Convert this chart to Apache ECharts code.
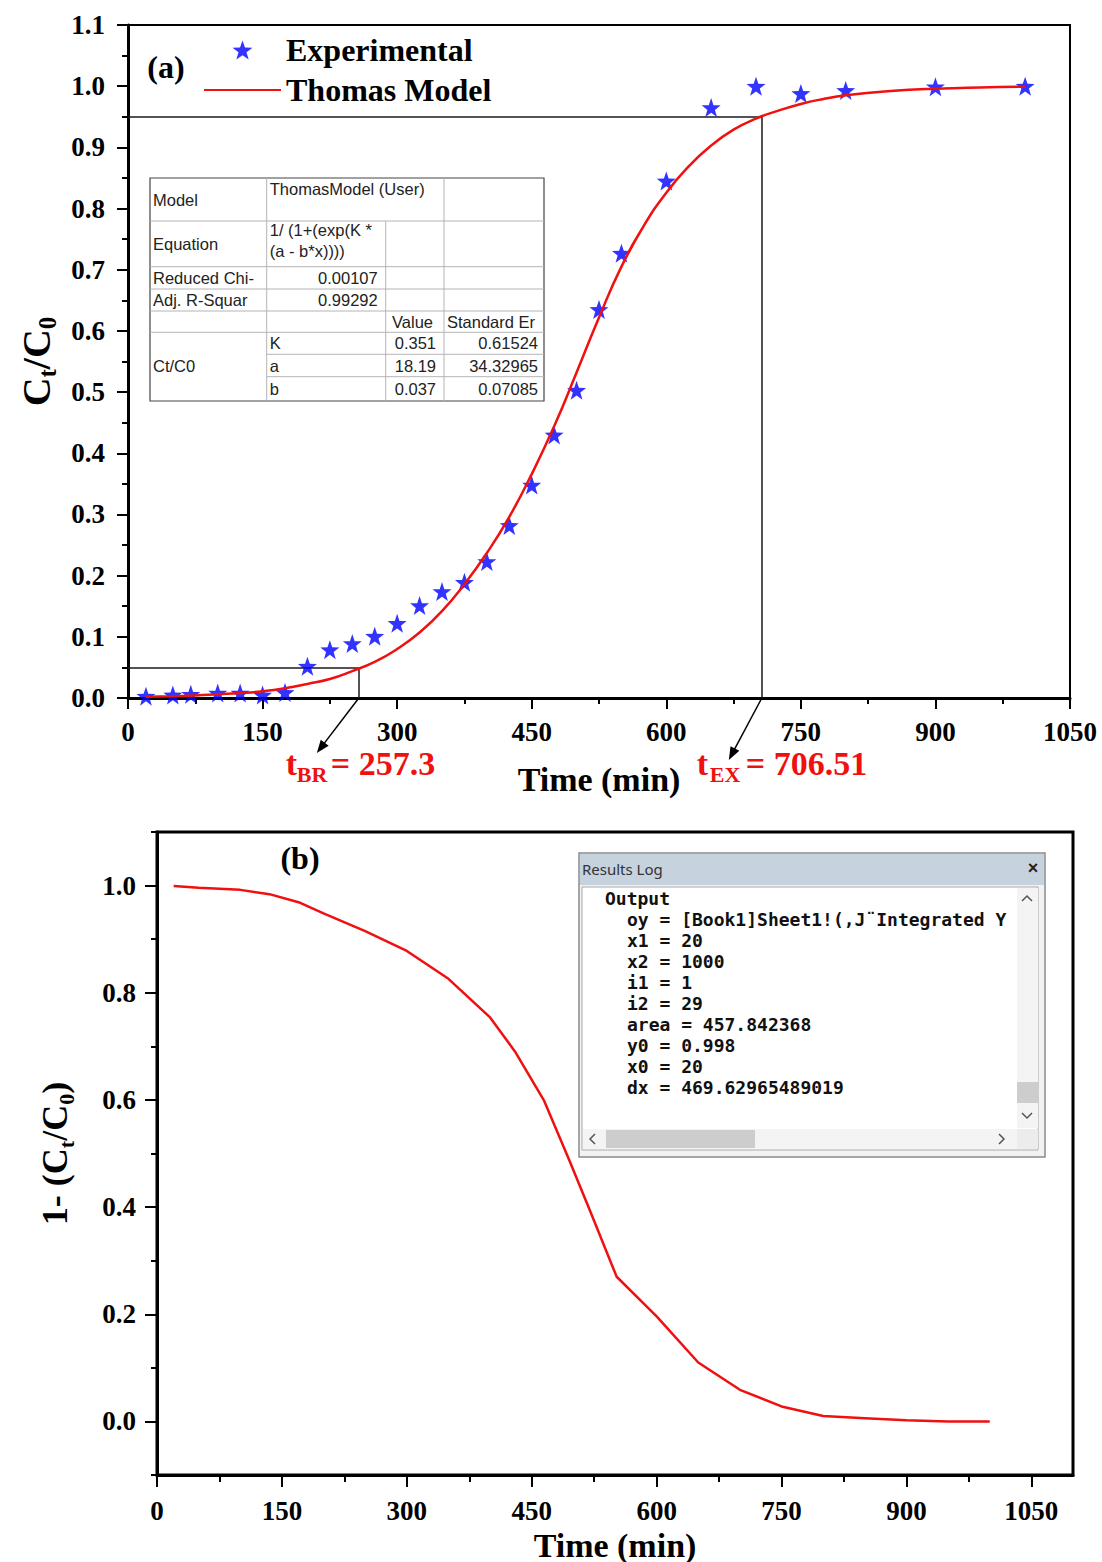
<!DOCTYPE html>
<html><head><meta charset="utf-8">
<script src="https://cdn.jsdelivr.net/npm/echarts@6/dist/echarts.min.js"></script>
<style>html,body{margin:0;padding:0;background:#fff}#c{width:1102px;height:1562px}</style>
</head><body><div id="c"></div>
<script>
// ---------------- data ----------------
const expTime = [20,50,70,100,125,150,175,200,225,250,275,300,325,350,375,400,425,450,475,500,525,550,600,650,700,750,800,900,1000];
const expCt   = [0.003,0.005,0.006,0.008,0.008,0.005,0.009,0.052,0.079,0.089,0.101,0.122,0.151,0.174,0.189,0.223,0.282,0.348,0.430,0.503,0.635,0.727,0.845,0.965,1.000,0.988,0.993,0.999,1.000];
const modelTime = [20,50,75,100,125,150,175,200,225,250,275,300,325,350,375,400,425,450,475,500,525,550,575,600,625,650,675,700,725,750,775,800,850,900,950,1000];
const modelCt   = [0.002,0.003,0.004,0.006,0.008,0.011,0.016,0.023,0.031,0.044,0.059,0.080,0.107,0.142,0.186,0.237,0.296,0.366,0.444,0.532,0.622,0.705,0.772,0.826,0.869,0.903,0.929,0.947,0.960,0.971,0.979,0.985,0.992,0.996,0.998,0.999];
const bTime  = [20,50,100,135,170,200,250,300,350,400,430,465,495,520,552,600,650,700,750,800,850,900,950,1000];
const bValue = [0.999,0.996,0.992,0.984,0.969,0.948,0.915,0.878,0.826,0.754,0.690,0.598,0.488,0.393,0.270,0.196,0.110,0.059,0.028,0.010,0.006,0.002,0.000,0.000];
const tBR = 257.3, tEX = 706.51;
const lvlBR = 0.05, lvlEX = 0.95;
const xTicksB = [0,150,300,450,600,750,900,1050];
const xMinorB = [75,225,375,525,675,825,975];
const yTicksB = [0,0.2,0.4,0.6,0.8,1.0];
const yMinorB = [-0.1,0.1,0.3,0.5,0.7,0.9,1.1];
const legendNames = ['Experimental','Thomas Model'];
const tableLabels = ['Model','Equation','Reduced Chi-','Adj. R-Squar','','Ct/C0'];
const tableModelName = 'ThomasModel (User)';
const tableEquation = ['1/ (1+(exp(K *','(a - b*x))))'];
const tableStats = ['0.00107','0.99292'];
const tableHeaders = ['Value','Standard Er'];
const paramNames = ['K','a','b'];
const paramValues = ['0.351','18.19','0.037'];
const paramErrors = ['0.61524','34.32965','0.07085'];
const logTitle = 'Results Log';
const logLines = ['Output','oy = [Book1]Sheet1!(,J\u00a8Integrated Y','x1 = 20','x2 = 1000','i1 = 1','i2 = 29','area = 457.842368','y0 = 0.998','x0 = 20','dx = 469.62965489019'];

// ---------------- chart ----------------
const serif = '"Liberation Serif","Times New Roman",serif';
const sans = '"Liberation Sans",Arial,sans-serif';
const mono = '"DejaVu Sans Mono",monospace';
const BLACK = '#000';
const RED = '#f01010';
const tickFont = {fontFamily: serif, fontWeight: 'bold', fontSize: 27, color: BLACK};
const richA = {
  c: {fontFamily: serif, fontWeight: 'bold', fontSize: 40, lineHeight: 48, color: BLACK},
  s: {fontFamily: serif, fontWeight: 'bold', fontSize: 25, lineHeight: 25, verticalAlign: 'bottom', color: BLACK}
};
const richB = {
  c: {fontFamily: serif, fontWeight: 'bold', fontSize: 36, lineHeight: 44, color: BLACK},
  s: {fontFamily: serif, fontWeight: 'bold', fontSize: 22, lineHeight: 22, verticalAlign: 'bottom', color: BLACK}
};
const starPath = 'path://M0,-10L2.35,-3.24L9.51,-3.09L3.8,1.24L5.88,8.09L0,4L-5.88,8.09L-3.8,1.24L-9.51,-3.09L-2.35,-3.24Z';
const plainNum = v => String(v);

const chart = echarts.init(document.getElementById('c'), null, {renderer: 'svg'});

function axisBase(extra) {
  return Object.assign({
    type: 'value',
    splitLine: {show: false},
    axisLine: {show: true, onZero: false, lineStyle: {color: BLACK, width: 3}},
    axisTick: {show: true, inside: false, length: 11, lineStyle: {color: BLACK, width: 2}},
    axisLabel: Object.assign({margin: 20, formatter: plainNum}, tickFont)
  }, extra);
}

const option = {
  animation: false,
  backgroundColor: '#fff',
  grid: [
    {left: 128, top: 25, width: 942, height: 673, show: true, borderColor: BLACK, borderWidth: 2, backgroundColor: 'transparent', containLabel: false, outerBoundsMode: 'none'},
    {left: 157, top: 832, width: 916, height: 643, show: true, borderColor: BLACK, borderWidth: 3, backgroundColor: 'transparent', containLabel: false, outerBoundsMode: 'none'}
  ],
  legend: {
    data: [legendNames[0], {name: legendNames[1], itemStyle: {opacity: 0}}],
    orient: 'vertical', left: 203, top: 34, padding: 0,
    itemWidth: 77, itemHeight: 19, itemGap: 8,
    textStyle: {fontFamily: serif, fontWeight: 'bold', fontSize: 32, color: BLACK}
  },
  xAxis: [
    axisBase({gridIndex: 0, min: 0, max: 1050, interval: 150,
      minorTick: {show: true, splitNumber: 2, length: 6, lineStyle: {color: BLACK, width: 2}},
      name: 'Time (min)', nameLocation: 'middle', nameGap: 64,
      nameTextStyle: {fontFamily: serif, fontWeight: 'bold', fontSize: 34, color: BLACK}}),
    axisBase({gridIndex: 1, min: 0, max: 1100,
      axisTick: {show: true, length: 12, lineStyle: {color: BLACK, width: 2}, customValues: xTicksB},
      axisLabel: Object.assign({margin: 22, customValues: xTicksB, formatter: plainNum}, tickFont),
      name: 'Time (min)', nameLocation: 'middle', nameGap: 53,
      nameTextStyle: {fontFamily: serif, fontWeight: 'bold', fontSize: 34, color: BLACK}}),
    {type: 'value', gridIndex: 1, min: 0, max: 1100, position: 'bottom',
      axisLine: {show: false, onZero: false}, splitLine: {show: false}, axisLabel: {show: false},
      axisTick: {show: true, length: 7, lineStyle: {color: BLACK, width: 2}, customValues: xMinorB}}
  ],
  yAxis: [
    axisBase({gridIndex: 0, min: 0, max: 1.1, interval: 0.1,
      minorTick: {show: true, splitNumber: 2, length: 6, lineStyle: {color: BLACK, width: 2}},
      axisLabel: Object.assign({margin: 23, formatter: v => v.toFixed(1)}, tickFont),
      name: '{c|C}{s|t}{c|/C}{s|0}', nameLocation: 'middle', nameRotate: 90, nameGap: 64,
      nameTextStyle: {rich: richA, padding: [0, 0, 0, 0]}}),
    axisBase({gridIndex: 1, min: -0.1, max: 1.1,
      axisTick: {show: true, length: 12, lineStyle: {color: BLACK, width: 2}, customValues: yTicksB},
      axisLabel: Object.assign({margin: 21, customValues: yTicksB, formatter: v => v.toFixed(1)}, tickFont),
      name: '{c|1- (C}{s|t}{c|/C}{s|0}{c|)}', nameLocation: 'middle', nameRotate: 90, nameGap: 80,
      nameTextStyle: {rich: richB}}),
    {type: 'value', gridIndex: 1, min: -0.1, max: 1.1, position: 'left',
      axisLine: {show: false, onZero: false}, splitLine: {show: false}, axisLabel: {show: false},
      axisTick: {show: true, length: 6, lineStyle: {color: BLACK, width: 2}, customValues: yMinorB}}
  ],
  series: [
    {name: legendNames[0], type: 'scatter', xAxisIndex: 0, yAxisIndex: 0,
      symbol: starPath, symbolSize: 19, itemStyle: {color: '#0000ff'},
      data: expTime.map((t, i) => [t, expCt[i]]), z: 2},
    {name: legendNames[1], type: 'line', xAxisIndex: 0, yAxisIndex: 0,
      symbol: 'none', smooth: true, lineStyle: {color: RED, width: 2.5}, itemStyle: {color: RED},
      data: modelTime.map((t, i) => [t, modelCt[i]]), z: 3,
      markLine: {silent: true, symbol: ['none', 'none'], label: {show: false}, z: 1,
        lineStyle: {color: '#1a1a1a', width: 1.5, type: 'solid'},
        emphasis: {disabled: true},
        data: [
          [{coord: [0, lvlEX]}, {coord: [tEX, lvlEX]}],
          [{coord: [tEX, lvlEX]}, {coord: [tEX, 0]}],
          [{coord: [0, lvlBR]}, {coord: [tBR, lvlBR]}],
          [{coord: [tBR, lvlBR]}, {coord: [tBR, 0]}]
        ]}},
    {name: 'bcurve', type: 'line', xAxisIndex: 1, yAxisIndex: 1,
      symbol: 'none', smooth: false, lineStyle: {color: RED, width: 2.5},
      data: bTime.map((t, i) => [t, bValue[i]])}
  ]
};
chart.setOption(option);

// ---------------- annotations (graphic) ----------------
const g = [];
function txt(x, y, text, font, color, align, vAlign) {
  g.push({type: 'text', z: 100, x: x, y: y, style: {text: text, font: font, fill: color || BLACK, align: align || 'left', verticalAlign: vAlign || 'middle'}});
}
function arrow(p0, dx, dy) {
  const tip = [p0[0] + dx, p0[1] + dy];
  const L = Math.hypot(dx, dy), ux = dx / L, uy = dy / L, nx = -uy, ny = ux;
  const hl = 13, hw = 5;
  g.push({type: 'line', z: 100, shape: {x1: p0[0], y1: p0[1], x2: tip[0] - ux * 8, y2: tip[1] - uy * 8}, style: {stroke: BLACK, lineWidth: 1.5}});
  g.push({type: 'polygon', z: 100, shape: {points: [tip, [tip[0] - ux * hl + nx * hw, tip[1] - uy * hl + ny * hw], [tip[0] - ux * hl - nx * hw, tip[1] - uy * hl - ny * hw]]}, style: {fill: BLACK}});
}
const pBR = chart.convertToPixel({gridIndex: 0}, [tBR, 0]);
const pEX = chart.convertToPixel({gridIndex: 0}, [tEX, 0]);
arrow(pBR, -42, 55);
arrow(pEX, -33, 62);
const big = 'bold 34px ' + serif, sub = 'bold 22px ' + serif;
txt(pBR[0] - 73, pBR[1] + 65, 't', big, RED);
txt(pBR[0] - 62, pBR[1] + 76, 'BR', sub, RED);
txt(pBR[0] - 28, pBR[1] + 65, '= ' + tBR, big, RED);
txt(pEX[0] - 65, pEX[1] + 65, 't', big, RED);
txt(pEX[0] - 52, pEX[1] + 76, 'EX', sub, RED);
txt(pEX[0] - 16, pEX[1] + 65, '= ' + tEX, big, RED);

// panel tags
txt(166, 67, '(a)', 'bold 32px ' + serif, BLACK, 'center');
txt(300, 858, '(b)', 'bold 32px ' + serif, BLACK, 'center');

// ---- fit table ----
(function () {
  const X = [150, 266.7, 385.7, 444, 544];
  const Y = [178, 221, 266.7, 289, 311, 332.3, 354.3, 376.7, 401];
  const grey = '#b4b4b4';
  g.push({type: 'rect', z: 90, shape: {x: X[0], y: Y[0], width: X[4] - X[0], height: Y[8] - Y[0]}, style: {fill: '#fff', stroke: '#444', lineWidth: 1.2}});
  const ln = (x1, y1, x2, y2) => g.push({type: 'line', z: 91, shape: {x1, y1, x2, y2}, style: {stroke: grey, lineWidth: 1}});
  for (let r = 1; r <= 5; r++) ln(X[0], Y[r], X[4], Y[r]);
  ln(X[1], Y[6], X[4], Y[6]); ln(X[1], Y[7], X[4], Y[7]);
  ln(X[1], Y[0], X[1], Y[8]); ln(X[2], Y[1], X[2], Y[8]); ln(X[3], Y[0], X[3], Y[8]);
  const f = '16.5px ' + sans, c = '#222';
  const mid = r => (Y[r] + Y[r + 1]) / 2;
  txt(X[0] + 3, mid(0), tableLabels[0], f, c);
  txt(X[1] + 3, 189, tableModelName, f, c);
  txt(X[0] + 3, mid(1), tableLabels[1], f, c);
  txt(X[1] + 3, 230, tableEquation[0], f, c);
  txt(X[1] + 3, 251, tableEquation[1], f, c);
  txt(X[0] + 3, mid(2), tableLabels[2], f, c);
  txt(X[2] - 8, mid(2), tableStats[0], f, c, 'right');
  txt(X[0] + 3, mid(3), tableLabels[3], f, c);
  txt(X[2] - 8, mid(3), tableStats[1], f, c, 'right');
  txt(X[3] - 11, mid(4), tableHeaders[0], f, c, 'right');
  txt(X[3] + 3, mid(4), tableHeaders[1], f, c);
  txt(X[0] + 3, mid(6), tableLabels[5], f, c);
  for (let i = 0; i < 3; i++) {
    txt(X[1] + 3, mid(5 + i), paramNames[i], f, c);
    txt(X[3] - 8, mid(5 + i), paramValues[i], f, c, 'right');
    txt(X[4] - 6, mid(5 + i), paramErrors[i], f, c, 'right');
  }
})();

// ---- results log window ----
(function () {
  const rect = (x, y, w, h, fill, stroke, lw) => g.push({type: 'rect', z: 90, shape: {x, y, width: w, height: h}, style: {fill, stroke: stroke || null, lineWidth: lw || 0}});
  const poly = pts => g.push({type: 'polyline', z: 95, shape: {points: pts}, style: {stroke: '#555', lineWidth: 1.5, fill: null}});
  rect(579, 853, 466, 304, '#f2f2f2', '#8a8a8a', 1.5);
  rect(580, 854, 464, 31, '#c6d2de');
  txt(582, 869, logTitle, '15px "Noto Sans",' + sans, '#333');
  txt(1033, 868, '\u00d7', 'bold 18px ' + sans, '#222', 'center');
  rect(582, 887, 456, 263, '#fff', '#a8a8a8', 1);
  for (let i = 0; i < logLines.length; i++) {
    txt(i === 0 ? 605 : 627, 898 + 21 * i, logLines[i], 'bold 18px ' + mono, '#111');
  }
  rect(1017, 888, 21, 240, '#f4f4f4');
  rect(1017, 1082, 21, 21, '#cdcdcd');
  poly([[1022, 901], [1027, 896], [1032, 901]]);
  poly([[1022, 1113], [1027, 1118], [1032, 1113]]);
  rect(583, 1129, 434, 20, '#f4f4f4');
  rect(606, 1130, 149, 18, '#cdcdcd');
  rect(1017, 1129, 21, 20, '#ececec');
  poly([[595, 1134], [590, 1139], [595, 1144]]);
  poly([[999, 1134], [1004, 1139], [999, 1144]]);
})();

chart.setOption({graphic: g});
</script></body></html>
